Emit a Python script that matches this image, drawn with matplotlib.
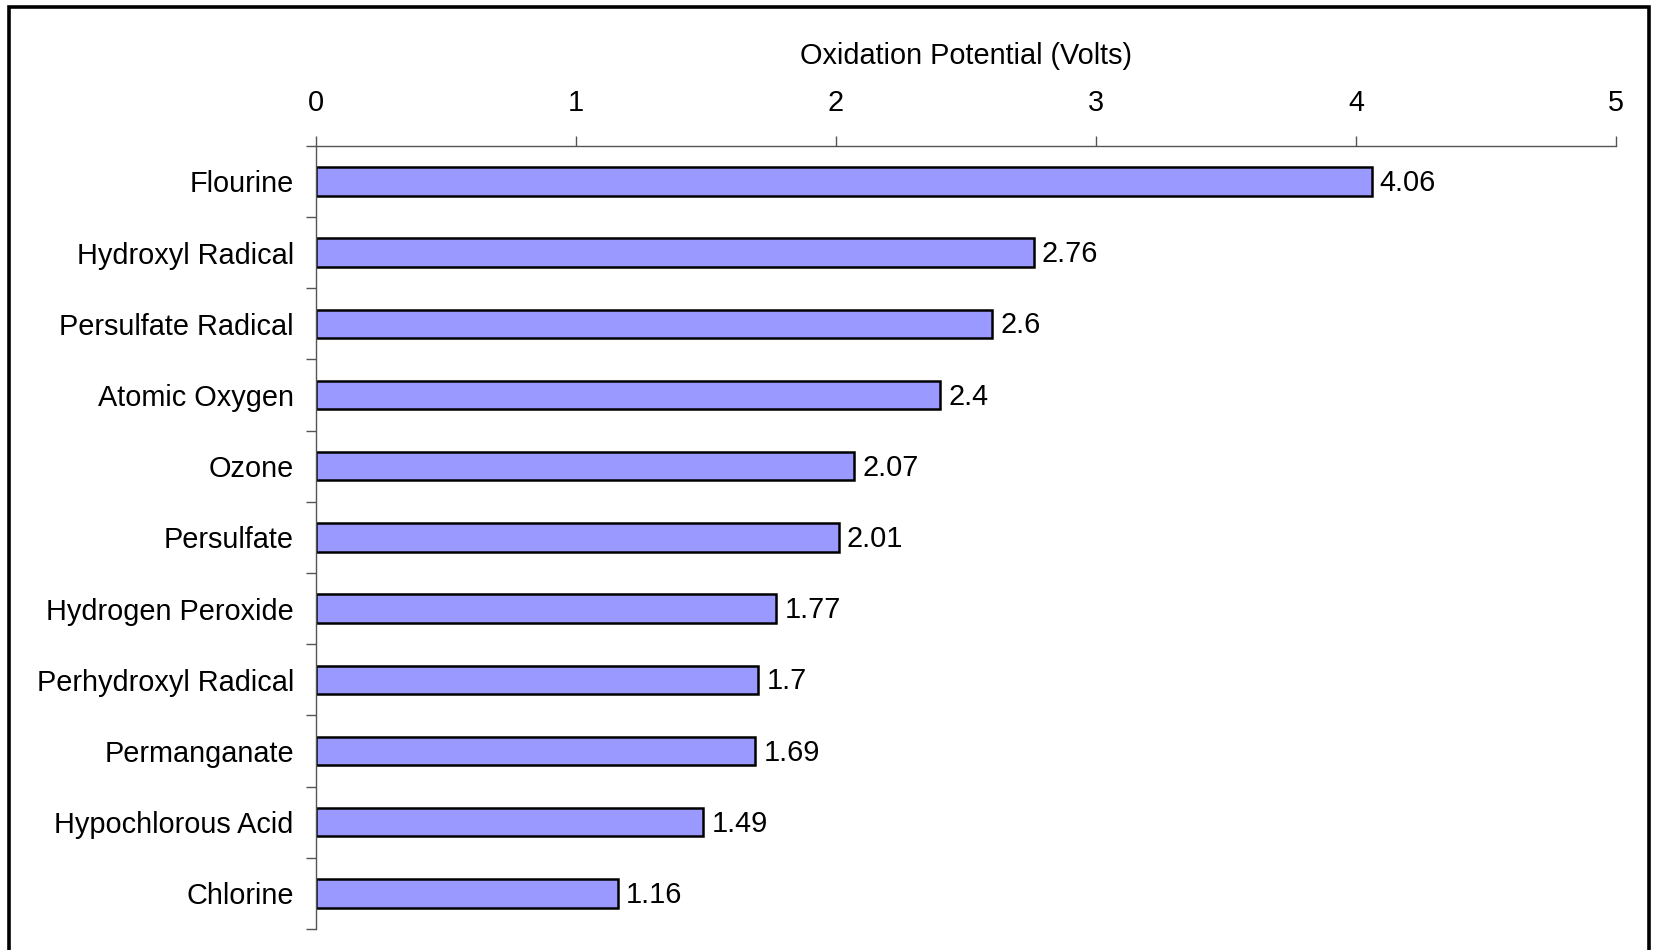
import matplotlib.pyplot as plt
from matplotlib.patches import Rectangle
import numpy as np

oxidants = [
    "Flourine",
    "Hydroxyl Radical",
    "Persulfate Radical",
    "Atomic Oxygen",
    "Ozone",
    "Persulfate",
    "Hydrogen Peroxide",
    "Perhydroxyl Radical",
    "Permanganate",
    "Hypochlorous Acid",
    "Chlorine",
]
potentials = [4.06, 2.76, 2.6, 2.4, 2.07, 2.01, 1.77, 1.7, 1.69, 1.49, 1.16]
value_labels = ["4.06", "2.76", "2.6", "2.4", "2.07", "2.01", "1.77", "1.7", "1.69", "1.49", "1.16"]

fs = 20.8
plt.rcParams["font.family"] = ["Liberation Sans", "DejaVu Sans"]
plt.rcParams["font.size"] = fs

fig = plt.figure(figsize=(16.57, 9.5), dpi=100)
ax = fig.add_axes([0.1907, 0.0221, 0.7845, 0.8245])

y = np.arange(len(oxidants))
ax.barh(y, potentials, height=0.4, color="#9999FF", edgecolor="black", linewidth=1.8)

for yi, v, lab in zip(y, potentials, value_labels):
    ax.annotate(lab, (v, yi), xytext=(6, 1), textcoords="offset points",
                va="center_baseline", ha="left", fontsize=fs)

ax.set_xlim(0, 5)
ax.set_ylim(len(oxidants) - 0.5, -0.5)
ax.xaxis.tick_top()
ax.xaxis.set_label_position("top")
ax.set_xticks(range(6))
ax.set_xlabel("Oxidation Potential (Volts)", fontsize=fs, labelpad=18.5)
ax.tick_params(axis="x", direction="out", length=7.5, width=1, color="#555555", pad=13, labelsize=fs)

ax.set_yticks(y)
ax.set_yticklabels(oxidants, va="center_baseline")
ax.set_yticks(np.arange(-0.5, len(oxidants)), minor=True)
ax.tick_params(axis="y", which="major", length=0, pad=16, labelsize=fs)
ax.tick_params(axis="y", which="minor", direction="out", length=7, width=1, color="#555555")

for side in ["right", "bottom"]:
    ax.spines[side].set_visible(False)
for side in ["top", "left"]:
    ax.spines[side].set_color("#555555")
    ax.spines[side].set_linewidth(1)

# outer chart border
fig.patches.append(Rectangle((9 / 1657, -0.05), 1640 / 1657, 1.05 - 7 / 950,
                             transform=fig.transFigure, fill=False,
                             edgecolor="black", linewidth=2.6))

fig.savefig("out.png", dpi=100)
